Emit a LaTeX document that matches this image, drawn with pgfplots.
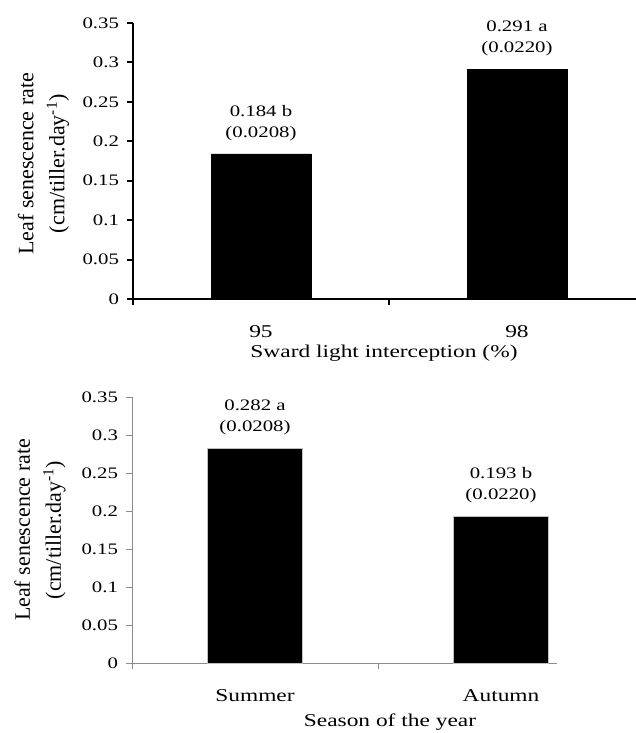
\documentclass[border=0pt]{standalone}
\usepackage{fontspec}
\setmainfont{Liberation Serif}
\usepackage{pgfplots}
\usepackage{pgfplotstable}
\pgfplotsset{compat=1.18}

\pgfplotstableread{
x y lab
0 0.184 0.184~b\\(0.0208)
1 0.291 0.291~a\\(0.0220)
}\lighttable

\pgfplotstableread{
x y lab
0 0.282 0.282~a\\(0.0208)
1 0.193 0.193~b\\(0.0220)
}\seasontable

\pgfplotsset{
  mypanel/.style={
    scale only axis,
    anchor=south west,
    axis lines*=left,
    clip=false,
    ymin=0, ymax=0.35,
    ytick={0,0.05,0.1,0.15,0.2,0.25,0.3,0.35},
    yticklabels={0,0.05,0.1,0.15,0.2,0.25,0.3,0.35},
    xtick={-0.5,0.5,1.5},
    xticklabels={,,},
    tick align=outside,
    major tick length=6bp,
    yticklabel style={font=\fontsize{16bp}{19bp}\selectfont, xscale=1.3, anchor=east, inner sep=0pt, xshift=-6bp},
    xticklabel style={font=\fontsize{18bp}{21bp}\selectfont, xscale=1.3, anchor=north, inner sep=0pt, yshift=-26bp},
    extra x tick style={major tick length=0pt},
    xlabel style={font=\fontsize{18bp}{21bp}\selectfont, xscale=1.3, anchor=center},
    ylabel style={font=\fontsize{22bp}{31bp}\selectfont, align=center, anchor=center},
    ybar, bar width=0.39, bar shift=0pt,
    point meta=explicit symbolic,
    nodes near coords={\pgfplotspointmeta},
    nodes near coords style={font=\fontsize{16bp}{21bp}\selectfont, align=center, xscale=1.3, inner sep=0pt, anchor=south, yshift=13bp, text=black},
  }
}

\begin{document}
\begin{tikzpicture}
\useasboundingbox (0,0) rectangle (636bp,733bp);

\begin{axis}[mypanel,
  at={(133bp,434bp)}, width=503bp, height=276bp,
  xmin=-0.5, xmax=1.465,
  axis line style={black, line width=2bp},
  tick style={black, line width=2bp},
  extra x ticks={0,1}, extra x tick labels={95,98},
  xlabel={Sward light interception (\%)},
  xlabel style={at={(axis description cs:0.499,-0.196)}},
  ylabel={Leaf senescence rate\\(cm/tiller.day\textsuperscript{-1})},
  ylabel style={at={(axis description cs:-0.178,0.49)}},
]
\addplot[fill=black, draw=black] table[x=x, y=y, meta=lab] {\lighttable};
\end{axis}

\begin{axis}[mypanel,
  at={(132bp,70bp)}, width=425bp, height=266bp,
  xmin=-0.5, xmax=1.2276,
  axis line style={black!45, line width=0.8bp},
  tick style={black!45, line width=0.8bp},
  extra x ticks={0,1}, extra x tick labels={Summer,Autumn},
  xlabel={Season of the year},
  xlabel style={at={(axis description cs:0.607,-0.222)}},
  ylabel={Leaf senescence rate\\(cm/tiller.day\textsuperscript{-1})},
  ylabel style={at={(axis description cs:-0.2165,0.5)}},
]
\addplot[fill=black, draw=black!25, line width=1bp] table[x=x, y=y, meta=lab] {\seasontable};
\end{axis}
\end{tikzpicture}
\end{document}
